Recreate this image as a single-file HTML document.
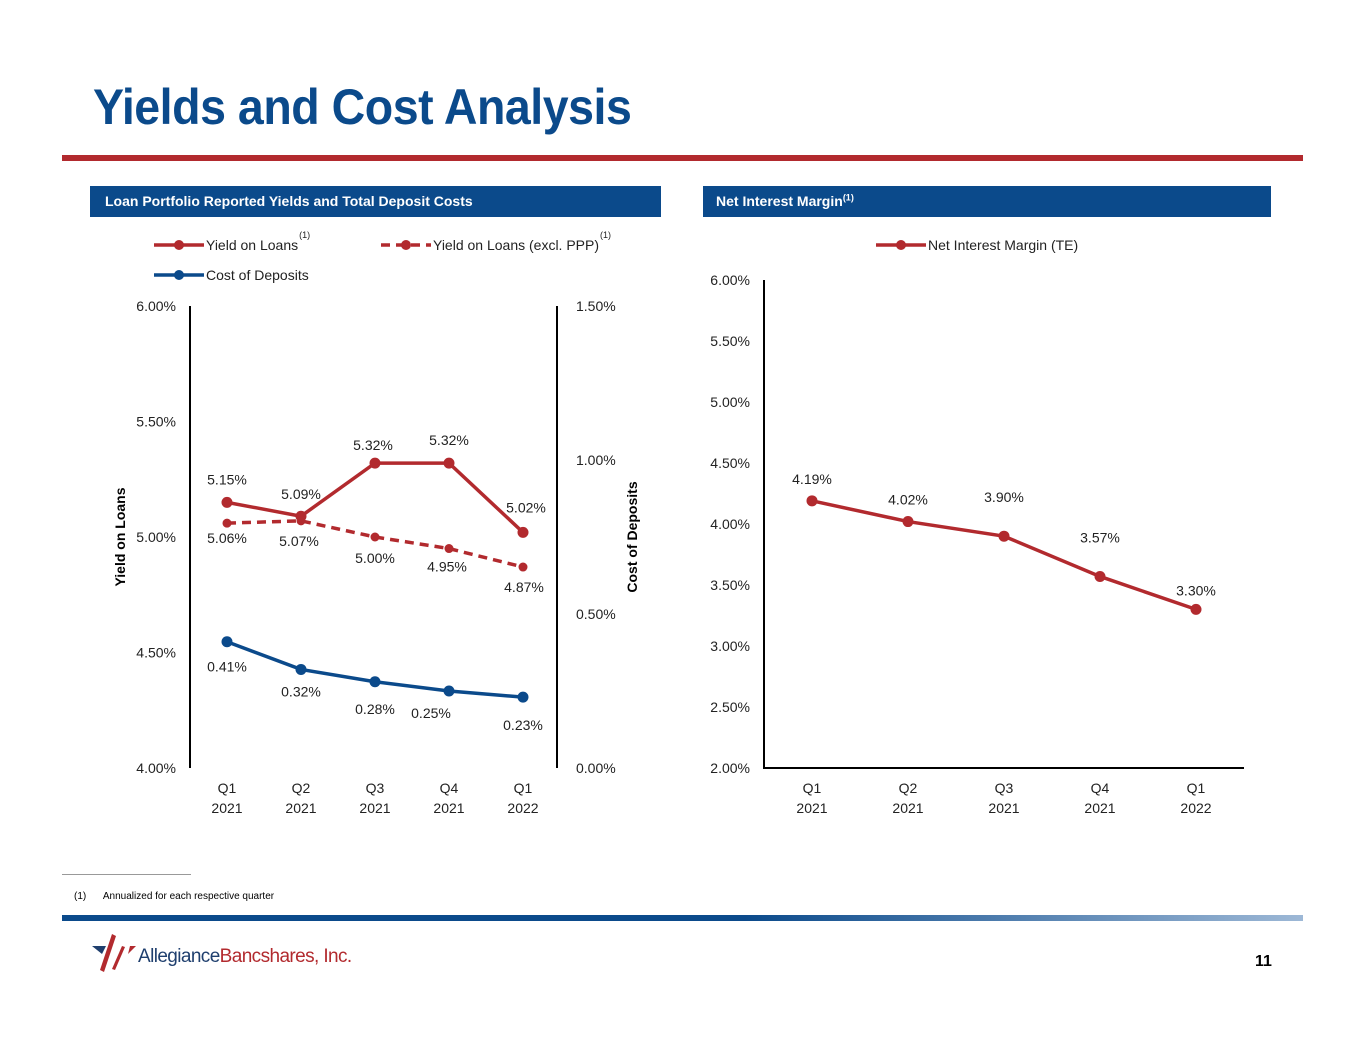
<!DOCTYPE html>
<html><head><meta charset="utf-8"><style>
body{margin:0;width:1365px;height:1055px;background:#fff;font-family:"Liberation Sans",sans-serif;position:relative;overflow:hidden}
.abs{position:absolute}
</style></head><body>
<div class="abs" style="left:93px;top:78px;font-size:50px;font-weight:bold;color:#0B4A8B;letter-spacing:-0.5px;transform:scaleX(0.93);transform-origin:0 0;white-space:nowrap">Yields and Cost Analysis</div>
<div class="abs" style="left:62px;top:155px;width:1241px;height:6px;background:#B22A2E"></div>
<div class="abs" style="left:90px;top:186px;width:571px;height:31px;background:#0B4A8B;color:#fff;font-weight:bold;font-size:14px;line-height:31px;padding-left:15px;box-sizing:border-box">Loan Portfolio Reported Yields and Total Deposit Costs</div>
<div class="abs" style="left:703px;top:186px;width:568px;height:31px;background:#0B4A8B;color:#fff;font-weight:bold;font-size:14px;line-height:31px;padding-left:13px;box-sizing:border-box">Net Interest Margin<sup style="font-size:9px;line-height:0">(1)</sup></div>
<svg class="abs" style="left:0;top:0" width="1365" height="1055" id="chart"></svg>
<div class="abs" style="left:62px;top:874px;width:129px;height:1px;background:#999"></div>
<div class="abs" style="left:74px;top:891px;font-size:10px;color:#000">(1)&nbsp;&nbsp;&nbsp;&nbsp;&nbsp;&nbsp;Annualized for each respective quarter</div>
<div class="abs" style="left:62px;top:915px;width:1241px;height:6px;background:linear-gradient(90deg,#0B4A8B,#0B4A8B 55%,#9DB8D6)"></div>
<svg class="abs" style="left:90px;top:932px" width="50" height="44">
<polygon points="2,14 16,14 12,22" fill="#1F3F6E"/><polygon points="22,2 26,4 14,40 10,38" fill="#B22A2E"/><polygon points="32,14 35,15 25,38 22,37" fill="#B22A2E"/><polygon points="40,14 46,14 38,22" fill="#B22A2E"/></svg>
<div class="abs" style="left:138px;top:946px;font-size:19px;letter-spacing:-0.6px"><span style="color:#1F3F6E">Allegiance</span><span style="color:#B22A2E">Bancshares, Inc.</span></div>
<div class="abs" style="left:1255px;top:953px;font-size:16px;font-weight:bold">11</div>
<script>
const cats=["Q1|2021","Q2|2021","Q3|2021","Q4|2021","Q1|2022"];
const yieldLoans=[5.15,5.09,5.32,5.32,5.02];
const yieldExPPP=[5.06,5.07,5.00,4.95,4.87];
const costDeposits=[0.41,0.32,0.28,0.25,0.23];
const nim=[4.19,4.02,3.90,3.57,3.30];
const leftTicks=[4.0,4.5,5.0,5.5,6.0];
const rightTicks=[0,0.5,1.0,1.5];
const nimTicks=[2.0,2.5,3.0,3.5,4.0,4.5,5.0,5.5,6.0];
const svg=document.getElementById('chart');const NS='http://www.w3.org/2000/svg';
function el(t,a,p){const e=document.createElementNS(NS,t);for(const k in a)e.setAttribute(k,a[k]);(p||svg).appendChild(e);return e;}
function txt(x,y,s,o){const t=el('text',Object.assign({x:x,y:y,'font-size':14,'font-family':'Liberation Sans, sans-serif',fill:'#222'},o||{}));t.textContent=s;return t;}
const RED='#B22A2E',BLUE='#0B4A8B';
const lx=i=>227+i*74, ly=v=>768-(v-4)/2*462, ld=v=>768-v/1.5*462;
const rx=i=>812+i*96, ry=v=>768-(v-2)/4*488;
let a=el('line',{x1:190,y1:306,x2:190,y2:768,stroke:'#000','stroke-width':2});
a=el('line',{x1:557,y1:306,x2:557,y2:768,stroke:'#000','stroke-width':2});
leftTicks.forEach(v=>{const t=txt(176,ly(v)+5,v.toFixed(2)+'%',{'text-anchor':'end'});});
rightTicks.forEach(v=>{const t=txt(576,ld(v)+5,v.toFixed(2)+'%');});
let t=txt(125,537,'Yield on Loans',{'font-weight':'bold',transform:'rotate(-90 125 537)','text-anchor':'middle',fill:'#000'});
t=txt(637,537,'Cost of Deposits',{'font-weight':'bold',transform:'rotate(-90 637 537)','text-anchor':'middle',fill:'#000'});
cats.forEach((c,i)=>{const p=c.split('|');let a=txt(lx(i),793,p[0],{'text-anchor':'middle'});a=txt(lx(i),813,p[1],{'text-anchor':'middle'});
a=txt(rx(i),793,p[0],{'text-anchor':'middle'});a=txt(rx(i),813,p[1],{'text-anchor':'middle'});});
function series(vals,fx,fy,col,r,dash,name){const l=el('polyline',{points:vals.map((v,i)=>fx(i)+','+fy(v)).join(' '),fill:'none',stroke:col,'stroke-width':3.5,'stroke-dasharray':dash||''});
vals.forEach((v,i)=>{const c=el('circle',{cx:fx(i),cy:fy(v),r:r,fill:col});});}
series(yieldExPPP,lx,ly,RED,4.5,'9,6','yield-ex-ppp');
series(yieldLoans,lx,ly,RED,5.5,'','yield-on-loans');
series(costDeposits,lx,ld,BLUE,5.5,'','cost-of-deposits');
const loanOff=[-18,-17,-13,-18,-20], exOff=[20,25,26,23,25], depOff=[30,27,32,27,33], exDx=[0,-2,0,-2,1], loanDx=[0,0,-2,0,3];
yieldLoans.forEach((v,i)=>{const a=txt(lx(i)+loanDx[i],ly(v)+loanOff[i],v.toFixed(2)+'%',{'text-anchor':'middle'});});
yieldExPPP.forEach((v,i)=>{const a=txt(lx(i)+exDx[i],ly(v)+exOff[i],v.toFixed(2)+'%',{'text-anchor':'middle'});});
costDeposits.forEach((v,i)=>{const a=txt(lx(i)-(i==3?18:0),ld(v)+depOff[i],v.toFixed(2)+'%',{'text-anchor':'middle'});});
function leg(x,y,col,dash,label,sup,name){const g=el('g',{});
el('line',{x1:x,y1:y,x2:x+50,y2:y,stroke:col,'stroke-width':3.5,'stroke-dasharray':dash||''},g);el('circle',{cx:x+25,cy:y,r:5,fill:col},g);
const tt=txt(x+52,y+5,label,{},);g.appendChild(tt);if(sup){const s=txt(0,y-7,sup,{'font-size':9});g.appendChild(s);s.setAttribute('x',x+52+tt.getComputedTextLength()+1);}}
leg(154,245,RED,'','Yield on Loans','(1)','legend-yield-on-loans');
leg(381,245,RED,'9,6','Yield on Loans (excl. PPP)','(1)','legend-yield-ex-ppp');
leg(154,275,BLUE,'','Cost of Deposits','','legend-cost-of-deposits');
leg(876,245,RED,'','Net Interest Margin (TE)','','legend-nim');
a=el('line',{x1:764,y1:280,x2:764,y2:769,stroke:'#000','stroke-width':2});
a=el('line',{x1:763,y1:768,x2:1244,y2:768,stroke:'#000','stroke-width':2});
nimTicks.forEach(v=>{const t=txt(750,ry(v)+5,v.toFixed(2)+'%',{'text-anchor':'end'});});
series(nim,rx,ry,RED,5.5,'','nim');
const nimOff=[-17,-17,-34,-34,-14];
nim.forEach((v,i)=>{const a=txt(rx(i),ry(v)+nimOff[i],v.toFixed(2)+'%',{'text-anchor':'middle'});});
</script>
</body></html>
